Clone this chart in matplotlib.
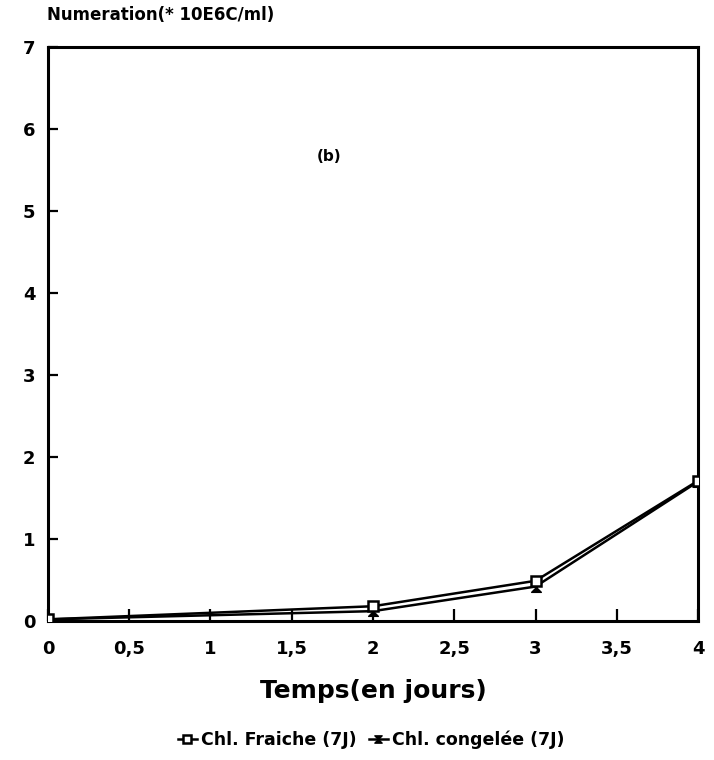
import matplotlib
matplotlib.use("Agg")
import matplotlib.pyplot as plt
from matplotlib.path import Path

# valeurs
jours = [0, 2, 3, 4]
fraiche = [0.02, 0.18, 0.49, 1.71]
congelee = [0.02, 0.12, 0.42, 1.70]
xticks = [0, 0.5, 1, 1.5, 2, 2.5, 3, 3.5, 4]
xlabels = ["0", "0,5", "1", "1,5", "2", "2,5", "3", "3,5", "4"]
yticks = [0, 1, 2, 3, 4, 5, 6, 7]

plt.rcParams['font.family'] = ['DejaVu Sans']
plt.rcParams['font.weight'] = 'bold'

# marqueur en sablier
sablier = Path([(-1, 1), (1, 1), (-1, -1), (1, -1), (-1, 1)],
               [Path.MOVETO, Path.LINETO, Path.LINETO, Path.LINETO, Path.CLOSEPOLY])

fig = plt.figure(figsize=(7.14, 7.6), dpi=100)
ax = fig.add_axes([0.0672, 0.1829, 0.9104, 0.7553])

ax.plot(jours, fraiche, color='black', lw=1.8, marker='s', markersize=7,
        markerfacecolor='white', markeredgecolor='black', markeredgewidth=1.8,
        label='Chl. Fraiche (7J)', zorder=4)
ax.plot(jours, congelee, color='black', lw=1.8, marker=sablier, markersize=7,
        markerfacecolor='black', markeredgecolor='black',
        label='Chl. congelée (7J)', zorder=3)

ax.set_xlim(0, 4)
ax.set_ylim(0, 7)
ax.set_xticks(xticks)
ax.set_xticklabels(xlabels)
ax.set_yticks(yticks)

for s in ax.spines.values():
    s.set_linewidth(2.2)

ax.tick_params(axis='x', direction='in', length=9, width=1.6, pad=14, labelsize=13)
ax.tick_params(axis='y', direction='in', length=7, width=1.6, pad=9, labelsize=13)
for lab in ax.get_xticklabels() + ax.get_yticklabels():
    lab.set_fontweight('bold')

ax.set_xlabel('Temps(en jours)', fontsize=18, fontweight='bold', labelpad=15)
ax.text(1.73, 5.66, '(b)', fontsize=11, fontweight='bold', ha='center', va='center')

fig.text(0.066, 0.98, 'Numeration(* 10E6C/ml)', fontsize=12, fontweight='bold',
         ha='left', va='center')

fig.legend(loc='center', bbox_to_anchor=(0.52, 0.026), ncol=2, frameon=False,
           prop={'size': 12.5, 'weight': 'bold'},
           handlelength=1.1, handletextpad=0.25, columnspacing=0.7,
           markerscale=0.75)

fig.savefig('out.png', dpi=100)
